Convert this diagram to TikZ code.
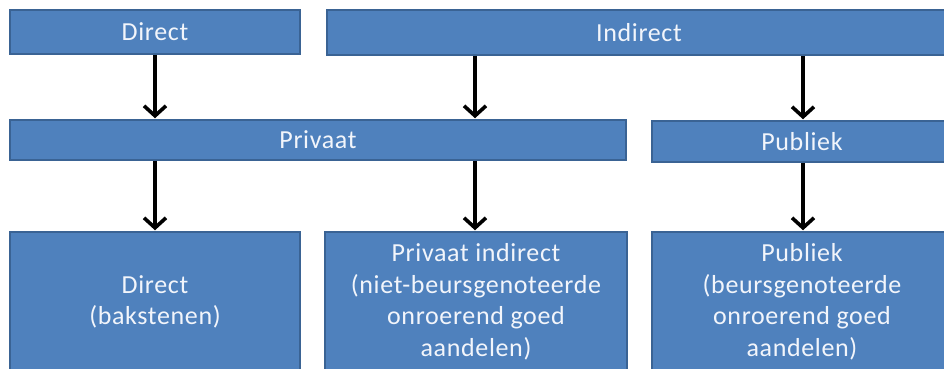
\documentclass[tikz,border=0pt]{standalone}
\usepackage{fontspec}
\setmainfont{Carlito}[LetterSpace=2.5]
\usetikzlibrary{arrows.meta}
\definecolor{boxfill}{HTML}{4F81BD}
\definecolor{boxedge}{HTML}{3A6394}
\definecolor{boxtext}{HTML}{F2F5FB}
\tikzset{
  blok/.style={draw=boxedge, line width=1.5pt, fill=boxfill, text=boxtext,
    inner sep=0pt, anchor=center, align=center,
    font=\fontsize{26}{31.5}\selectfont},
  pijl/.style={draw=black, line width=3.6pt,
    -{Straight Barb[length=10pt, width=22pt, line width=3.6pt]}, shorten >=1pt}
}
\begin{document}
\begin{tikzpicture}[x=1pt, y=-1pt]
  \useasboundingbox (0,0) rectangle (944,368);
  % top row
  \node[blok, minimum width=290pt, minimum height=44pt] (dtop) at (155,32) {Direct};
  \node[blok, minimum width=624pt, minimum height=45pt] (itop) at (639,32.5) {Indirect};
  % middle row
  \node[blok, minimum width=616pt, minimum height=40pt] (priv) at (318,140) {Privaat};
  \node[blok, minimum width=300pt, minimum height=41pt] (publ) at (802,141.5) {Publiek};
  % bottom row
  \node[blok, minimum width=290pt, minimum height=140pt] (dbot) at (155,302) {Direct\\(bakstenen)};
  \node[blok, minimum width=302pt, minimum height=140pt] (pind) at (476,302) {Privaat indirect\\(niet-beursgenoteerde\\onroerend goed\\aandelen)};
  \node[blok, minimum width=300pt, minimum height=140pt] (pbot) at (802,302) {Publiek\\(beursgenoteerde\\onroerend goed\\aandelen)};
  % connectors
  \draw[pijl] (dtop.south) -- (priv.north -| dtop.south);
  \draw[pijl] (itop.south -| 475,0) -- (priv.north -| 475,0);
  \draw[pijl] (itop.south -| 803,0) -- (publ.north -| 803,0);
  \draw[pijl] (priv.south -| dbot.north) -- (dbot.north);
  \draw[pijl] (priv.south -| 475,0) -- (pind.north -| 475,0);
  \draw[pijl] (publ.south -| 803,0) -- (pbot.north -| 803,0);
\end{tikzpicture}
\end{document}
